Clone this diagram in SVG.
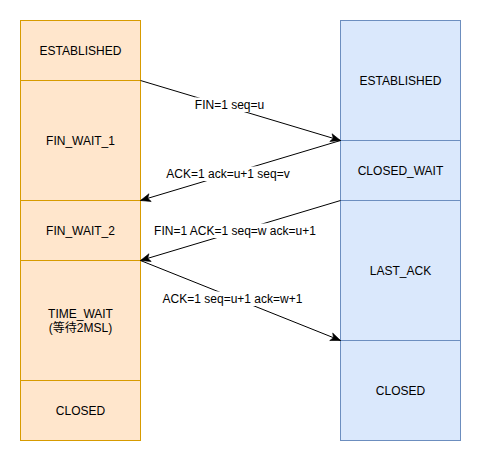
<svg xmlns="http://www.w3.org/2000/svg" width="481" height="461" viewBox="0 0 481 461">
<defs>
<style>
.l{fill:#ffe6cc;stroke:#d79b00;stroke-width:1}
.r{fill:#dae8fc;stroke:#6c8ebf;stroke-width:1}
text{font-family:"Liberation Sans",Arial,"Noto Sans CJK SC",sans-serif;font-size:12px;fill:#000;text-anchor:middle}
.e{stroke:#000;stroke-width:1;fill:none;marker-end:url(#a)}
.bg{fill:#fff;stroke:none}
</style>
<marker id="a" markerUnits="userSpaceOnUse" markerWidth="12" markerHeight="12" viewBox="0 0 12 12" refX="11" refY="6" orient="auto">
<path d="M1,2 L11,6 L1,10 L3.5,6 Z" fill="#000" stroke="#000" stroke-width="0.6"/>
</marker>
</defs>
<rect width="481" height="461" fill="#fff"/>
<g id="client">
<g id="c-established"><rect class="l" x="20.5" y="20.5" width="120" height="60"/><text x="80.5" y="54.5">ESTABLISHED</text></g>
<g id="c-fin-wait-1"><rect class="l" x="20.5" y="80.5" width="120" height="120"/><text x="80.5" y="144.5">FIN_WAIT_1</text></g>
<g id="c-fin-wait-2"><rect class="l" x="20.5" y="200.5" width="120" height="60"/><text x="80.5" y="234.5">FIN_WAIT_2</text></g>
<g id="c-time-wait"><rect class="l" x="20.5" y="260.5" width="120" height="120"/><text x="80.5" y="317.5">TIME_WAIT</text><text x="80.5" y="332">(等待2MSL)</text></g>
<g id="c-closed"><rect class="l" x="20.5" y="380.5" width="120" height="60"/><text x="80.5" y="414.5">CLOSED</text></g>
</g>
<g id="server">
<g id="s-established"><rect class="r" x="340.5" y="20.5" width="120" height="120"/><text x="400.5" y="84.5">ESTABLISHED</text></g>
<g id="s-closed-wait"><rect class="r" x="340.5" y="140.5" width="120" height="60"/><text x="400.5" y="174.5">CLOSED_WAIT</text></g>
<g id="s-last-ack"><rect class="r" x="340.5" y="200.5" width="120" height="140"/><text x="400.5" y="274.5">LAST_ACK</text></g>
<g id="s-closed"><rect class="r" x="340.5" y="340.5" width="120" height="100"/><text x="400.5" y="394.5">CLOSED</text></g>
</g>
<g id="connectors">
<path class="e" d="M140.5,80.5 L340.5,140.5"/>
<rect class="bg" x="195" y="97.5" width="69" height="14.5"/>
<text x="229.5" y="108.5">FIN=1 seq=u</text>
<path class="e" d="M340.5,140.5 L140.5,200.5"/>
<rect class="bg" x="167" y="166.5" width="122" height="14.5"/>
<text x="228" y="177.5">ACK=1 ack=u+1 seq=v</text>
<path class="e" d="M340.5,200.5 L140.5,260.5"/>
<rect class="bg" x="154" y="223.5" width="162" height="14.5"/>
<text x="235" y="234.5">FIN=1 ACK=1 seq=w ack=u+1</text>
<path class="e" d="M140.5,260.5 L340.5,340.5"/>
<rect class="bg" x="162" y="291.5" width="141" height="14.5"/>
<text x="232.5" y="302.5">ACK=1 seq=u+1 ack=w+1</text>
</g>
</svg>
